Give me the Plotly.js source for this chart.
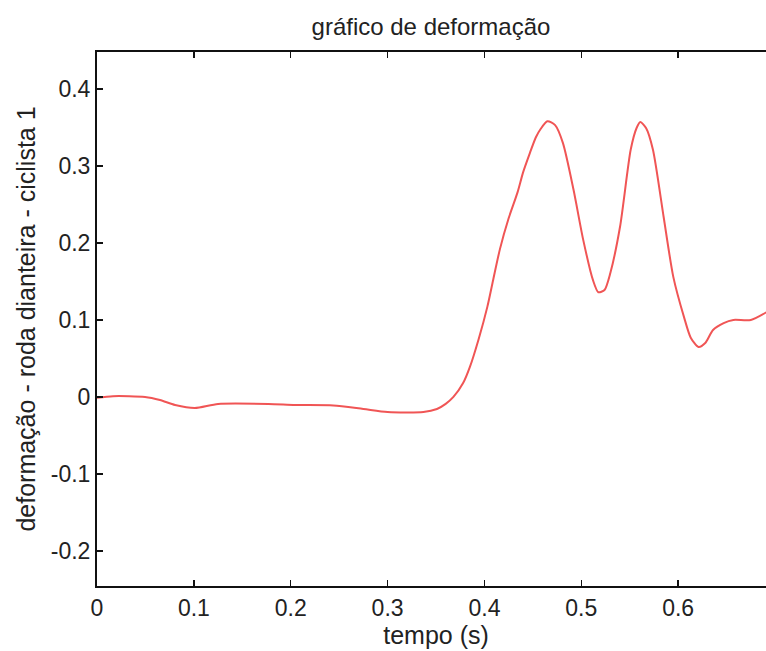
<!DOCTYPE html>
<html>
<head>
<meta charset="utf-8">
<script src="https://cdn.plot.ly/plotly-3.0.1.min.js"></script>
<style>
html,body{margin:0;padding:0;overflow:hidden;background:#fff;width:766px;height:651px;}
#chart{width:775px;height:651px;}
</style>
</head>
<body>
<div id="chart"></div>
<script>
// time (s)
const tempo = [0, 0.0165, 0.0496, 0.065, 0.0806, 0.101, 0.125, 0.177, 0.2045, 0.244, 0.275, 0.300, 0.337, 0.351, 0.360, 0.368, 0.378, 0.385, 0.394, 0.403, 0.409, 0.416, 0.425, 0.434, 0.440, 0.447, 0.453, 0.458, 0.465, 0.473, 0.481, 0.492, 0.502, 0.512, 0.5176, 0.524, 0.530, 0.540, 0.551, 0.557, 0.561, 0.567, 0.574, 0.585, 0.595, 0.606, 0.613, 0.621, 0.628, 0.636, 0.647, 0.657, 0.675, 0.691];
// deformation
const deformacao = [-0.001, 0.001, 0.000, -0.004, -0.0104, -0.0143, -0.009, -0.009, -0.0104, -0.011, -0.0156, -0.0195, -0.0195, -0.0156, -0.009, 0.000, 0.018, 0.039, 0.075, 0.117, 0.152, 0.192, 0.232, 0.265, 0.292, 0.317, 0.337, 0.348, 0.358, 0.353, 0.330, 0.269, 0.204, 0.152, 0.136, 0.139, 0.161, 0.221, 0.321, 0.349, 0.357, 0.349, 0.321, 0.234, 0.156, 0.104, 0.077, 0.065, 0.070, 0.087, 0.096, 0.100, 0.100, 0.110];
const xTicks = [0, 0.1, 0.2, 0.3, 0.4, 0.5, 0.6, 0.7];
const xTickText = ['0', '0.1', '0.2', '0.3', '0.4', '0.5', '0.6', '0.7'];
const yTicks = [-0.2, -0.1, 0, 0.1, 0.2, 0.3, 0.4];
const yTickText = ['-0.2', '-0.1', '0', '0.1', '0.2', '0.3', '0.4'];

const fam = 'Liberation Sans, Arial, sans-serif';
const tickFont = {family: fam, size: 23, color: '#222'};

Plotly.newPlot('chart', [{
  x: tempo, y: deformacao, type: 'scatter', mode: 'lines',
  line: {color: 'rgb(240,85,85)', width: 2, shape: 'spline', smoothing: 0.7},
  hoverinfo: 'none'
}], {
  width: 775, height: 651,
  margin: {l: 97, r: 0, t: 52, b: 65},
  paper_bgcolor: '#fff', plot_bgcolor: '#fff',
  font: tickFont,
  showlegend: false,
  title: {text: 'gráfico de deformação', font: {family: fam, size: 24, color: '#222'},
          xref: 'paper', x: 0.4926, xanchor: 'center', y: 1 - 27/651, yanchor: 'middle', yref: 'container'},
  xaxis: {
    range: [0, 0.7], tickvals: xTicks, ticktext: xTickText,
    ticks: 'inside', ticklen: 6, tickwidth: 1.5, tickcolor: '#111',
    showline: true, linecolor: '#111', linewidth: 2, mirror: 'ticks',
    showgrid: false, zeroline: false, tickfont: tickFont,
    title: {text: 'tempo (s)', font: {family: fam, size: 25, color: '#222'}, standoff: 0}
  },
  yaxis: {
    range: [-0.2455, 0.448], tickvals: yTicks, ticktext: yTickText,
    ticks: 'inside', ticklen: 6, tickwidth: 1.5, tickcolor: '#111',
    showline: true, linecolor: '#111', linewidth: 2,
    showgrid: false, zeroline: false, tickfont: tickFont,
    title: {text: 'deformação - roda dianteira - ciclista 1', font: {family: fam, size: 25, color: '#222'}, standoff: 8}
  }
}, {staticPlot: true, displayModeBar: false});
</script>
</body>
</html>
